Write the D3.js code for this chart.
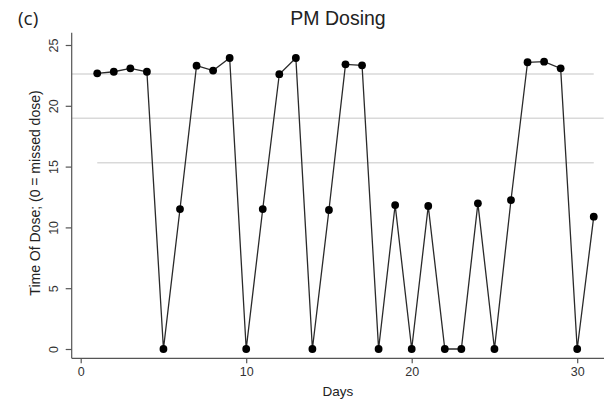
<!DOCTYPE html>
<html>
<head>
<meta charset="utf-8">
<script src="https://cdn.jsdelivr.net/npm/d3@7/dist/d3.min.js"></script>
<style>
  html, body { margin: 0; padding: 0; background: #fff; }
  svg text { font-family: "Liberation Sans", Arial, Helvetica, sans-serif; fill: #222; }
</style>
</head>
<body>
<script>
// Dosing record: day of month and clock time of the evening dose (0 = missed)
const days = d3.range(1, 32);
const doseTimes = [
  22.67, 22.80, 23.08, 22.80, 0, 11.51, 23.30, 22.90, 23.93, 0,
  11.51, 22.60, 23.93, 0, 11.43, 23.41, 23.33, 0, 11.84, 0,
  11.76, 0, 0, 11.98, 0, 12.25, 23.58, 23.63, 23.08, 0,
  10.88
];
const xTicks = [0, 10, 20, 30];
const yTicks = [0, 5, 10, 15, 20, 25];

// Reference levels (mean and ±1 SD of taken doses) with their day spans
const refLevels = [22.62, 18.97, 15.32];
const refFrom = [-0.54, -0.54, 1];
const refTo = [31, 31.6, 31];

const titleText = "PM Dosing";
const panelTag = "(c)";
const xLabel = "Days";
const yLabel = "Time Of Dose; (0 = missed dose)";

const W = 607, H = 405;
const svg = d3.select("body").append("svg").attr("width", W).attr("height", H);

const x = d3.scaleLinear().domain([0, 30]).range([80.7, 577.2]);
const y = d3.scaleLinear().domain([0, 25]).range([349, 45]);

const axisX = 71.7, axisY = 358.3;

// reference lines
svg.append("g").selectAll("line").data(refLevels).join("line")
  .attr("x1", (d, i) => Math.max(axisX, x(refFrom[i])))
  .attr("x2", (d, i) => x(refTo[i]))
  .attr("y1", d => y(d)).attr("y2", d => y(d))
  .attr("stroke", "#d9d9d9").attr("stroke-width", 1.4);

// axis lines (L shape)
const axisColor = "#555";
svg.append("line").attr("x1", axisX).attr("x2", axisX)
  .attr("y1", y(26)).attr("y2", axisY)
  .attr("stroke", axisColor).attr("stroke-width", 1.2);
svg.append("line").attr("x1", axisX).attr("x2", 604)
  .attr("y1", axisY).attr("y2", axisY)
  .attr("stroke", axisColor).attr("stroke-width", 1.2);

// y axis ticks and rotated labels
const yAxis = d3.axisLeft(y).tickValues(yTicks).tickSize(6).tickPadding(0).tickFormat(d3.format("d"));
const gy = svg.append("g").attr("transform", `translate(${axisX},0)`).call(yAxis);
gy.select(".domain").remove();
gy.selectAll(".tick line").attr("stroke", axisColor).attr("stroke-width", 1.2);
gy.selectAll(".tick text")
  .attr("x", null).attr("dy", null)
  .attr("transform", "translate(-14,0) rotate(-90)")
  .attr("text-anchor", "middle")
  .style("font-size", "12.5px").style("fill", "#333");

// x axis ticks and labels
const xAxis = d3.axisBottom(x).tickValues(xTicks).tickSize(5).tickPadding(4).tickFormat(d3.format("d"));
const gx = svg.append("g").attr("transform", `translate(0,${axisY})`).call(xAxis);
gx.select(".domain").remove();
gx.selectAll(".tick line").attr("stroke", axisColor).attr("stroke-width", 1.2);
gx.selectAll(".tick text").style("font-size", "12.5px").style("fill", "#333");

// data line and points
const pts = days.map((d, i) => [d, doseTimes[i]]);
svg.append("path").datum(pts)
  .attr("fill", "none").attr("stroke", "#2a2a2a").attr("stroke-width", 1.3)
  .attr("d", d3.line().x(d => x(d[0])).y(d => y(d[1])));
svg.append("g").selectAll("circle").data(pts).join("circle")
  .attr("cx", d => x(d[0])).attr("cy", d => y(d[1])).attr("r", 3.9)
  .attr("fill", "#000");

// titles and labels
svg.append("text").attr("x", 338).attr("y", 25).attr("text-anchor", "middle")
  .style("font-size", "19.5px").text(titleText);
svg.append("text").attr("x", 18).attr("y", 25)
  .style("font-family", "'Open Sans', sans-serif").style("font-size", "19px").text(panelTag);
svg.append("text").attr("x", 338).attr("y", 396).attr("text-anchor", "middle")
  .style("font-size", "13.5px").text(xLabel);
svg.append("text").attr("transform", "translate(40,193) rotate(-90)")
  .attr("text-anchor", "middle").style("font-size", "14px").text(yLabel);
</script>
</body>
</html>
